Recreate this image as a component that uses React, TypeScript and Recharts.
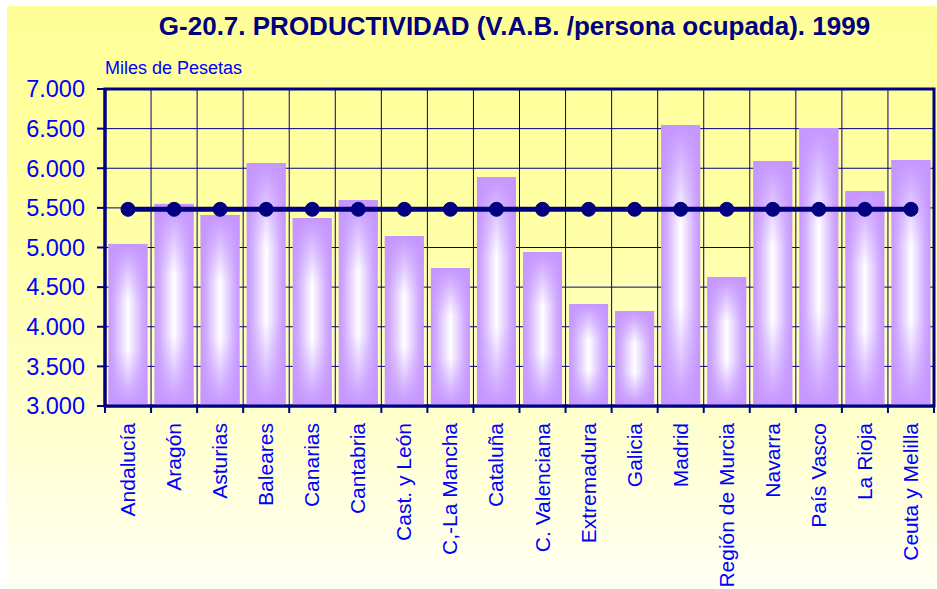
import React from 'react'
import {
  ComposedChart,
  Bar,
  Line,
  XAxis,
  YAxis,
  CartesianGrid,
  ReferenceArea,
} from 'recharts'

const regiones = [
  'Andalucía',
  'Aragón',
  'Asturias',
  'Baleares',
  'Canarias',
  'Cantabria',
  'Cast. y León',
  'C,-La Mancha',
  'Cataluña',
  'C. Valenciana',
  'Extremadura',
  'Galicia',
  'Madrid',
  'Región de Murcia',
  'Navarra',
  'País Vasco',
  'La Rioja',
  'Ceuta y Melilla',
]

// miles de pesetas por persona ocupada
const productividad = [
  5045, 5550, 5410, 6066, 5372, 5599, 5145, 4741, 5889, 4943, 4287, 4199, 6546, 4628, 6091,
  6508, 5713, 6104,
]

// media nacional
const mediaEspana = [
  5482, 5482, 5482, 5482, 5482, 5482, 5482, 5482, 5482, 5482, 5482, 5482, 5482, 5482, 5482,
  5482, 5482, 5482,
]

const yTicks = [3000, 3500, 4000, 4500, 5000, 5500, 6000, 6500, 7000]

const data = regiones.map((r, i) => ({
  region: r,
  valor: productividad[i],
  media: mediaEspana[i],
}))

const NAVY = '#000080'
const BLUE = '#0000ff'
const FONT = '"Liberation Sans", Arial, sans-serif'

const W = 937
const H = 589
const MARGIN = { top: 89, right: 3, bottom: 0, left: 0 }
const Y_AXIS_W = 105
const X_AXIS_H = 183
const BAND = (W - MARGIN.right - Y_AXIS_W) / regiones.length

const fmtMiles = (v: number) => `${Math.floor(v / 1000)}.${String(v % 1000).padStart(3, '0')}`

function BarShape(props: any) {
  const { x, y, width, height } = props
  if (!height || height <= 0) return null
  return (
    <g>
      <rect x={x} y={y} width={width} height={height} fill="url(#barH)" />
      <rect x={x} y={y} width={width} height={height} fill="url(#barV)" />
    </g>
  )
}

function RegionTick(props: any) {
  const { x, y, payload, index } = props
  return (
    <g>
      <line x1={x - BAND / 2} y1={y} x2={x - BAND / 2} y2={y + 7} stroke={NAVY} strokeWidth={2} />
      {index === regiones.length - 1 && (
        <line x1={x + BAND / 2} y1={y} x2={x + BAND / 2} y2={y + 7} stroke={NAVY} strokeWidth={2} />
      )}
      <text
        transform={`translate(${x + 7},${y + 17}) rotate(-90)`}
        textAnchor="end"
        fill={BLUE}
        fontSize={21}
        fontFamily={FONT}
      >
        {payload.value}
      </text>
    </g>
  )
}

export default function App() {
  return (
    <div
      style={{
        position: 'absolute',
        left: 0,
        top: 0,
        width: W,
        height: H,
        background: '#ffffff',
        overflow: 'hidden',
        fontFamily: FONT,
      }}
    >
      <div
        style={{
          position: 'absolute',
          left: 7,
          top: 6,
          width: W - 7,
          height: H - 6,
          background:
            'linear-gradient(to bottom, #ffff99 0%, #ffffa4 35%, #ffffc4 65%, #fffff4 100%)',
        }}
      />
      <div
        style={{
          position: 'absolute',
          left: 0,
          top: 13,
          width: 1029,
          textAlign: 'center',
          fontSize: 26,
          lineHeight: '26px',
          fontWeight: 'bold',
          color: NAVY,
          whiteSpace: 'nowrap',
        }}
      >
        G-20.7. PRODUCTIVIDAD (V.A.B. /persona ocupada). 1999
      </div>
      <div
        style={{
          position: 'absolute',
          left: 105,
          top: 59,
          fontSize: 18,
          lineHeight: '18px',
          color: BLUE,
          whiteSpace: 'nowrap',
        }}
      >
        Miles de Pesetas
      </div>
      <div style={{ position: 'absolute', left: 0, top: 0 }}>
        <ComposedChart width={W} height={H} data={data} margin={MARGIN} barCategoryGap="7.6%">
          <defs>
            <linearGradient id="barH" x1="0" y1="0" x2="1" y2="0">
              <stop offset="0%" stopColor="#c596ff" />
              <stop offset="15%" stopColor="#d2afff" />
              <stop offset="50%" stopColor="#ffffff" />
              <stop offset="85%" stopColor="#d2afff" />
              <stop offset="100%" stopColor="#c596ff" />
            </linearGradient>
            <linearGradient id="barV" x1="0" y1="0" x2="0" y2="1">
              <stop offset="0%" stopColor="#c596ff" stopOpacity={1} />
              <stop offset="6%" stopColor="#c596ff" stopOpacity={0.85} />
              <stop offset="35%" stopColor="#c596ff" stopOpacity={0} />
              <stop offset="65%" stopColor="#c596ff" stopOpacity={0} />
              <stop offset="94%" stopColor="#c596ff" stopOpacity={0.85} />
              <stop offset="100%" stopColor="#c596ff" stopOpacity={1} />
            </linearGradient>
          </defs>
          <CartesianGrid
            stroke={NAVY}
            strokeWidth={1}
            verticalCoordinatesGenerator={({ offset }: any) =>
              regiones.slice(1).map((_, i) => offset.left + ((i + 1) * offset.width) / regiones.length)
            }
          />
          <XAxis
            dataKey="region"
            height={X_AXIS_H}
            interval={0}
            tickLine={false}
            tickSize={0}
            tickMargin={0}
            axisLine={{ stroke: NAVY, strokeWidth: 3 }}
            tick={<RegionTick />}
          />
          <YAxis
            width={Y_AXIS_W}
            domain={[3000, 7000]}
            ticks={yTicks}
            allowDataOverflow
            tickFormatter={fmtMiles}
            tickSize={8}
            tickMargin={12}
            tickLine={{ stroke: NAVY, strokeWidth: 2 }}
            axisLine={{ stroke: NAVY, strokeWidth: 3 }}
            tick={{ fill: BLUE, fontSize: 23.5, fontFamily: FONT }}
          />
          <Bar dataKey="valor" shape={<BarShape />} isAnimationActive={false} />
          <Line
            type="linear"
            dataKey="media"
            stroke={NAVY}
            strokeWidth={5}
            dot={{ r: 7, fill: NAVY, stroke: NAVY, strokeWidth: 1 }}
            activeDot={false}
            isAnimationActive={false}
          />
          <ReferenceArea y1={3000} y2={7000} fill="none" stroke={NAVY} strokeWidth={3} />
        </ComposedChart>
      </div>
    </div>
  )
}
